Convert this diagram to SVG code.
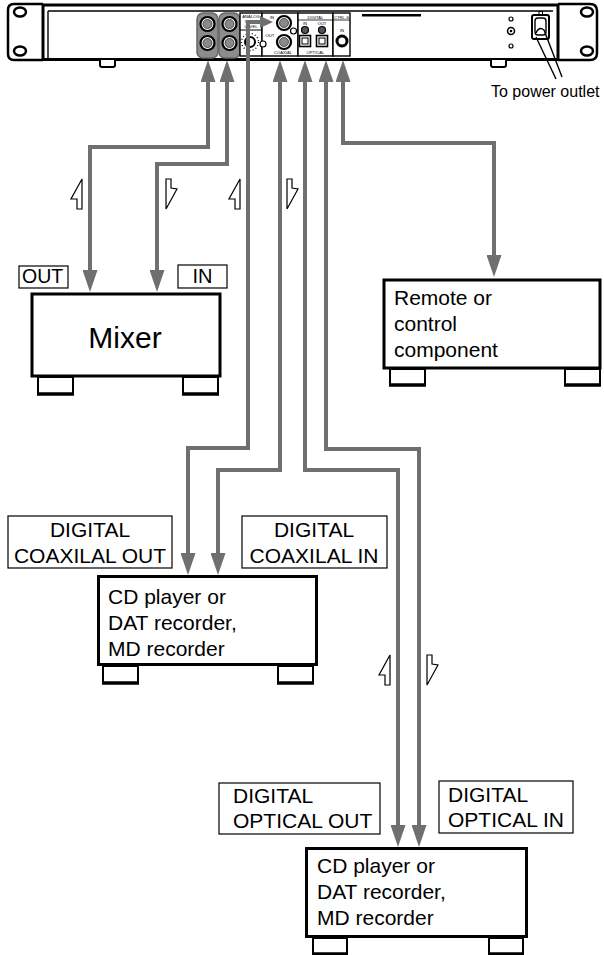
<svg xmlns="http://www.w3.org/2000/svg" width="604" height="955" viewBox="0 0 604 955">
<style>
text{font-family:"Liberation Sans",Arial,Helvetica,sans-serif;fill:#000}
.ol{fill:none;stroke:#000;stroke-width:2.5}
.box{fill:#fff;stroke:#000;stroke-width:3}
.lbl{fill:#fff;stroke:#000;stroke-width:1.2}
.foot{fill:#fff;stroke:#000;stroke-width:2}
.fb{stroke:#000;stroke-width:3.5}
.con{fill:none;stroke:#6f6f6f;stroke-width:4;stroke-linejoin:miter}
.bolt{fill:#fff;stroke:#000;stroke-width:1.2;stroke-linejoin:miter}
.t21{font-size:21px}
.tiny{font-size:4.2px;text-anchor:middle}
.jk{fill:#fff;stroke:#000;stroke-width:2.2}
.jki{fill:#8a8a8a;stroke:#333;stroke-width:0.8}
.thin{fill:#fff;stroke:#000;stroke-width:1.4}
</style>
<defs>
<marker id="ah" viewBox="0 0 22 15" refX="12" refY="7.5" markerWidth="22" markerHeight="15" markerUnits="userSpaceOnUse" orient="auto-start-reverse">
<path d="M0,0 L22,7.5 L0,15 Z" fill="#6f6f6f"/>
</marker>
<marker id="ahs" viewBox="0 0 13 12" refX="2" refY="6" markerWidth="13" markerHeight="12" markerUnits="userSpaceOnUse" orient="auto-start-reverse">
<path d="M0,0 L13,6 L0,12 Z" fill="#6f6f6f"/>
</marker>
<polygon id="bup" points="11,0 11,30 6,30 6,20 0,20" class="bolt"/>
<polygon id="bdn" points="0,0 5,0 5,9 11,10 0,30" class="bolt"/>
</defs>
<rect width="604" height="955" fill="#fff"/>

<g id="unit">
<path d="M43,4 H14 Q8,4 8,10 V54 Q8,60 14,60 H43" class="ol"/>
<ellipse cx="20" cy="12" rx="6" ry="4.5" class="ol" stroke-width="2"/>
<ellipse cx="20" cy="51" rx="6" ry="4.5" class="ol" stroke-width="2"/>
<line x1="43" y1="4" x2="43" y2="60" stroke="#000" stroke-width="3"/>
<line x1="43" y1="5" x2="558" y2="5" stroke="#000" stroke-width="3"/>
<line x1="48" y1="11" x2="553" y2="11" stroke="#000" stroke-width="1.4"/>
<line x1="48" y1="11" x2="48" y2="58" stroke="#000" stroke-width="1.4"/>
<line x1="43" y1="59.5" x2="558" y2="59.5" stroke="#000" stroke-width="3"/>
<path d="M558,4 H590 Q597,4 597,11 V53 Q597,60 590,60 H558" class="ol"/>
<line x1="558" y1="4" x2="558" y2="60" stroke="#000" stroke-width="3"/>
<ellipse cx="587" cy="12" rx="6" ry="4.5" class="ol" stroke-width="2"/>
<ellipse cx="587" cy="51" rx="6" ry="4.5" class="ol" stroke-width="2"/>
<path d="M100,60 V65 Q100,67 102,67 H113 Q115,67 115,65 V60" class="foot"/>
<path d="M491,60 V65 Q491,67 493,67 H504 Q506,67 506,65 V60" class="foot"/>
<!-- XLR jacks -->
<rect x="197" y="13" width="21" height="45" rx="6" fill="#8c8c8c" stroke="#666" stroke-width="1.5"/>
<rect x="219" y="13" width="21" height="45" rx="6" fill="#8c8c8c" stroke="#666" stroke-width="1.5"/>
<circle cx="207.5" cy="24" r="7" class="jk"/><circle cx="207.5" cy="24" r="4.5" class="jki"/>
<circle cx="207.5" cy="43" r="7" class="jk"/><circle cx="207.5" cy="43" r="4.5" class="jki"/>
<circle cx="229.5" cy="24" r="7" class="jk"/><circle cx="229.5" cy="24" r="4.5" class="jki"/>
<circle cx="229.5" cy="43" r="7" class="jk"/><circle cx="229.5" cy="43" r="4.5" class="jki"/>
<!-- analog input level -->
<rect x="240" y="13" width="22" height="43" class="thin"/>
<text x="251" y="17.5" class="tiny">ANALOG</text>
<text x="251" y="22.5" class="tiny">INPUT</text>
<text x="251" y="27.5" class="tiny">LEVEL</text>
<line x1="240" y1="30" x2="262" y2="30" stroke="#000" stroke-width="1"/>
<circle cx="250" cy="42" r="5" fill="#fff" stroke="#000" stroke-width="2"/>
<circle cx="250" cy="42" r="8.5" fill="none" stroke="#000" stroke-width="1.3" stroke-dasharray="1 2.2"/>
<!-- coaxial -->
<rect x="262" y="13" width="36" height="43" class="thin"/>
<circle cx="263" cy="44" r="3" fill="#fff" stroke="#000" stroke-width="1.2"/>
<text x="272" y="19" class="tiny">IN</text>
<text x="270" y="37" class="tiny">OUT</text>
<circle cx="284" cy="23" r="7" class="jk"/><circle cx="284" cy="23" r="4.5" class="jki"/>
<circle cx="284" cy="42" r="7" class="jk"/><circle cx="284" cy="42" r="4.5" class="jki"/>
<circle cx="293.5" cy="31" r="3" fill="#fff" stroke="#000" stroke-width="1.2"/>
<text x="283" y="54" class="tiny">COAXIAL</text>
<!-- digital -->
<rect x="298" y="13" width="35" height="43" class="thin"/>
<text x="315.5" y="18.5" class="tiny">DIGITAL</text>
<line x1="298" y1="20" x2="333" y2="20" stroke="#000" stroke-width="0.8"/>
<text x="305" y="25" class="tiny">IN</text>
<text x="322" y="25" class="tiny">OUT</text>
<circle cx="305" cy="30" r="3.5" fill="#555" stroke="#000" stroke-width="1.2"/>
<circle cx="322" cy="30" r="3.5" fill="#555" stroke="#000" stroke-width="1.2"/>
<rect x="299.5" y="35.5" width="11" height="11" fill="#fff" stroke="#000" stroke-width="1.6"/>
<rect x="302" y="38" width="6" height="6" fill="#fff" stroke="#000" stroke-width="1"/>
<rect x="316.5" y="35.5" width="11" height="11" fill="#fff" stroke="#000" stroke-width="1.6"/>
<rect x="319" y="38" width="6" height="6" fill="#fff" stroke="#000" stroke-width="1"/>
<text x="315.5" y="53.5" class="tiny">OPTICAL</text>
<!-- ctrl-s -->
<rect x="333" y="13" width="17" height="43" class="thin"/>
<text x="341.5" y="18.5" class="tiny">CTRL-S</text>
<line x1="333" y1="20" x2="350" y2="20" stroke="#000" stroke-width="0.8"/>
<text x="342" y="32" class="tiny">IN</text>
<circle cx="342" cy="41" r="5" fill="#fff" stroke="#000" stroke-width="3"/>
<rect x="362" y="14" width="59" height="2.5" fill="#000"/>
<circle cx="511" cy="19" r="2" fill="#fff" stroke="#000" stroke-width="1.2"/>
<circle cx="511" cy="31" r="3.5" fill="#fff" stroke="#000" stroke-width="1.5"/>
<circle cx="511" cy="31" r="1.3" fill="#000"/>
<circle cx="511" cy="46" r="2" fill="#fff" stroke="#000" stroke-width="1.2"/>
<rect x="539" y="11.5" width="3.5" height="3.5" fill="#fff" stroke="#000" stroke-width="1"/>
<rect x="532" y="15" width="17" height="24" rx="2" fill="#fff" stroke="#000" stroke-width="2"/>
<rect x="535" y="18" width="11" height="17" rx="3" fill="#fff" stroke="#000" stroke-width="1.4"/>
<path d="M536,33 Q539,26 544,30 L562,77" fill="none" stroke="#000" stroke-width="1.4"/>
<path d="M536,37 L556,79" fill="none" stroke="#000" stroke-width="1.4"/>
<text x="491" y="97" font-size="16">To power outlet</text>
</g>

<g id="connectors">
<path d="M208,70 V147 H90 V282" class="con" marker-start="url(#ah)" marker-end="url(#ah)"/>
<path d="M227,70 V164 H157 V282" class="con" marker-start="url(#ah)" marker-end="url(#ah)"/>
<path d="M262,22 H248 V448 H188 V565" class="con" marker-start="url(#ahs)" marker-end="url(#ah)"/>
<path d="M280,70 V470 H218 V565" class="con" marker-start="url(#ah)" marker-end="url(#ah)"/>
<path d="M305,70 V470 H398 V837" class="con" marker-start="url(#ah)" marker-end="url(#ah)"/>
<path d="M326,70 V449 H419 V837" class="con" marker-start="url(#ah)" marker-end="url(#ah)"/>
<path d="M343,70 V143 H494 V267" class="con" marker-start="url(#ah)" marker-end="url(#ah)"/>
</g>

<g id="direction-marks">
<use href="#bup" x="71" y="179"/>
<use href="#bdn" x="166" y="179"/>
<use href="#bup" x="229" y="179"/>
<use href="#bdn" x="287" y="179"/>
<use href="#bup" x="379" y="655"/>
<use href="#bdn" x="427" y="655"/>
</g>

<g id="mixer">
<rect x="19" y="266" width="49" height="22" class="lbl"/>
<text x="22" y="283" font-size="19.5">OUT</text>
<rect x="178" y="265" width="49" height="23" class="lbl"/>
<text x="202.5" y="283" font-size="20" text-anchor="middle">IN</text>
<rect x="32" y="294" width="188" height="82" class="box"/>
<rect x="38" y="377" width="35" height="17" class="foot"/><line x1="37" y1="394" x2="74" y2="394" class="fb"/>
<rect x="183" y="377" width="35" height="17" class="foot"/><line x1="182" y1="394" x2="219" y2="394" class="fb"/>
<text x="125" y="348" font-size="30" text-anchor="middle">Mixer</text>
</g>

<g id="remote">
<rect x="384" y="280" width="216" height="88" class="box"/>
<rect x="390" y="369" width="35" height="16" class="foot"/><line x1="389" y1="385" x2="426" y2="385" class="fb"/>
<rect x="565" y="369" width="35" height="16" class="foot"/><line x1="564" y1="385" x2="601" y2="385" class="fb"/>
<text class="t21" x="394" y="305">Remote or</text>
<text class="t21" x="394" y="331">control</text>
<text class="t21" x="394" y="357">component</text>
</g>

<g id="cd1">
<rect x="8" y="516" width="164" height="52" class="lbl"/>
<text class="t21" x="90" y="537" text-anchor="middle">DIGITAL</text>
<text class="t21" x="90" y="563" text-anchor="middle">COAXILAL OUT</text>
<rect x="242" y="516" width="145" height="52" class="lbl"/>
<text class="t21" x="314" y="537" text-anchor="middle">DIGITAL</text>
<text class="t21" x="314" y="563" text-anchor="middle">COAXILAL IN</text>
<rect x="98.5" y="576.5" width="218" height="88" class="box"/>
<rect x="103" y="666" width="35" height="17" class="foot"/><line x1="102" y1="683" x2="139" y2="683" class="fb"/>
<rect x="278" y="666" width="35" height="17" class="foot"/><line x1="277" y1="683" x2="314" y2="683" class="fb"/>
<text class="t21" x="108" y="604">CD player or</text>
<text class="t21" x="108" y="630">DAT recorder,</text>
<text class="t21" x="108" y="656">MD recorder</text>
</g>

<g id="cd2">
<rect x="219" y="783" width="161" height="51" class="lbl"/>
<text class="t21" x="233" y="803">DIGITAL</text>
<text class="t21" x="233" y="828">OPTICAL OUT</text>
<rect x="439" y="781" width="134" height="52" class="lbl"/>
<text class="t21" x="448" y="802">DIGITAL</text>
<text class="t21" x="448" y="827">OPTICAL IN</text>
<rect x="306.5" y="848.5" width="220" height="88" class="box"/>
<rect x="313" y="938" width="34" height="16" class="foot"/><line x1="312" y1="954" x2="348" y2="954" class="fb"/>
<rect x="489" y="938" width="34" height="16" class="foot"/><line x1="488" y1="954" x2="524" y2="954" class="fb"/>
<text class="t21" x="317" y="873">CD player or</text>
<text class="t21" x="317" y="899">DAT recorder,</text>
<text class="t21" x="317" y="925">MD recorder</text>
</g>
</svg>
